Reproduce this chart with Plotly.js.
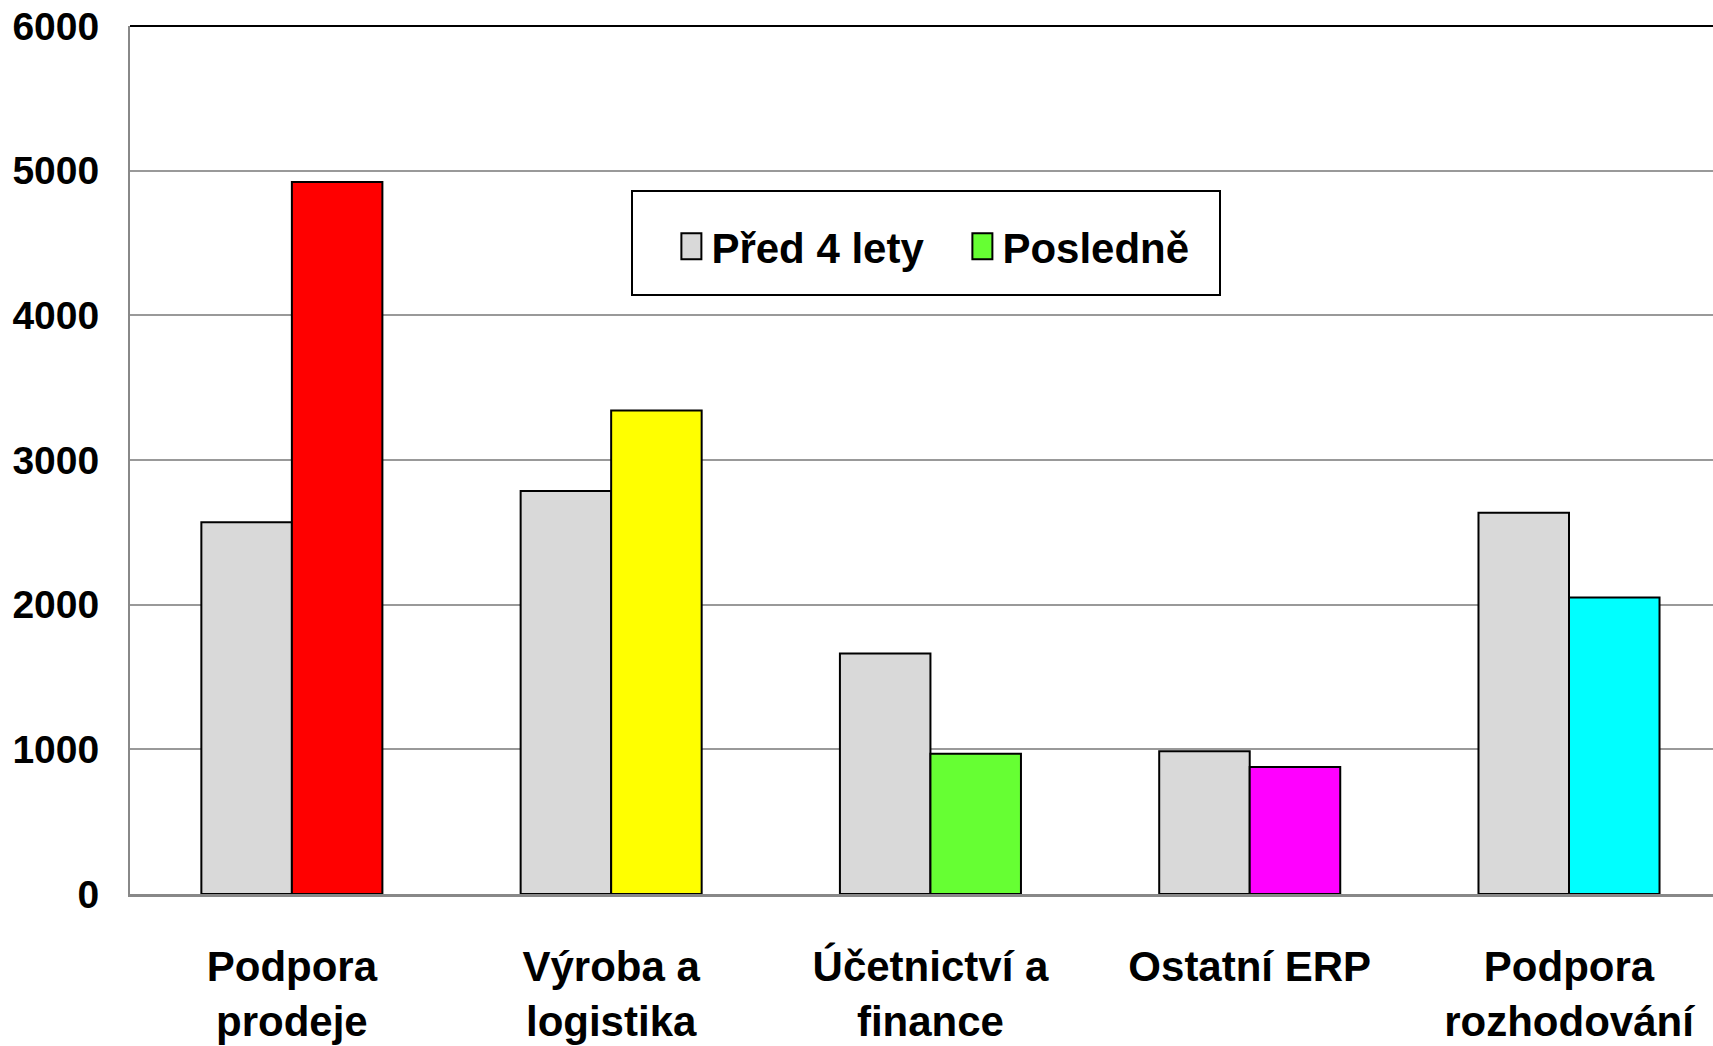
<!DOCTYPE html>
<html>
<head>
<meta charset="utf-8">
<script src="https://cdn.plot.ly/plotly-3.0.1.min.js"></script>
<style>
  html, body { margin: 0; padding: 0; background: #ffffff; overflow: hidden; }
  #chart { width: 1713px; height: 1046px; }
</style>
</head>
<body>
<div id="chart"></div>
<script>
// ---- data ----
const categories = ['Podpora<br>prodeje', 'Výroba a<br>logistika', 'Účetnictví a<br>finance', 'Ostatní ERP', 'Podpora<br>rozhodování'];
const seriesNames = ['Před 4 lety', 'Posledně'];
const before4Years = [2570, 2785, 1662, 986, 2636];
const lastTime = [4921, 3343, 970, 878, 2050];
const lastTimeColors = ['#ff0000', '#ffff00', '#66ff33', '#ff00ff', '#00ffff'];
const legendColorLast = '#66ff33';
const yTicks = [0, 1000, 2000, 3000, 4000, 5000, 6000];

const FONT = 'Liberation Sans, Arial, Helvetica, sans-serif';

const traces = [
  {
    type: 'bar', name: seriesNames[0], x: categories, y: before4Years,
    offsetgroup: 'a',
    marker: { color: '#d9d9d9', line: { color: '#000000', width: 2 } },
    hoverinfo: 'x+y+name'
  },
  {
    type: 'bar', name: seriesNames[1], x: categories, y: lastTime,
    offsetgroup: 'b', legendgroup: 'b', showlegend: false,
    marker: { color: lastTimeColors, line: { color: '#000000', width: 2 } },
    hoverinfo: 'x+y+name'
  },
  {
    // legend entry for the second series (Excel shows one swatch colour)
    type: 'bar', name: seriesNames[1], x: [categories[0]], y: [null],
    offsetgroup: 'b', legendgroup: 'b', showlegend: true,
    marker: { color: legendColorLast, line: { color: '#000000', width: 2 } },
    hoverinfo: 'skip'
  }
];

const layout = {
  width: 1713, height: 1046,
  margin: { l: 130, r: 0, t: 26, b: 152, pad: 0 },
  paper_bgcolor: '#ffffff', plot_bgcolor: '#ffffff',
  barmode: 'group', bargap: 0.433, bargroupgap: 0,
  font: { family: FONT, color: '#000000', weight: 'bold' },
  xaxis: {
    type: 'category', range: [-0.507, 4.451],
    showline: true, linecolor: '#888888', linewidth: 3,
    showgrid: false, zeroline: false, ticks: '',
    tickfont: { family: FONT, size: 42, color: '#000000', weight: 'bold' },
    ticklabelstandoff: 34,
    fixedrange: true
  },
  yaxis: {
    range: [0, 6000], tickvals: yTicks, ticktext: yTicks.map(String),
    showline: true, linecolor: '#888888', linewidth: 2,
    showgrid: true, gridcolor: '#999999', gridwidth: 2,
    zeroline: false, ticks: '',
    tickfont: { family: FONT, size: 39, color: '#000000', weight: 'bold' },
    ticklabelstandoff: 21,
    fixedrange: true
  },
  showlegend: true,
  legend: {
    orientation: 'h', x: 0.342, xanchor: 'left', y: 0.746, yanchor: 'middle',
    bgcolor: 'rgba(0,0,0,0)', borderwidth: 0,
    font: { family: FONT, size: 42, color: '#000000', weight: 'bold' },
    entrywidth: 246, entrywidthmode: 'pixels',
    traceorder: 'normal'
  },
  shapes: [
    { type: 'line', xref: 'paper', yref: 'paper', x0: 0, x1: 1, y0: 1, y1: 1,
      line: { color: '#000000', width: 2 } },
    { type: 'rect', xref: 'paper', yref: 'paper',
      x0: (632 - 130) / 1583, x1: (1220 - 130) / 1583,
      y0: (894 - 295) / 868, y1: (894 - 191) / 868,
      line: { color: '#000000', width: 2 }, fillcolor: 'rgba(255,255,255,0)', layer: 'above' }
  ],
  hovermode: false
};

function enlargeSwatches() {
  document.querySelectorAll('#chart .legend .legendpoints path').forEach(function (p) {
    p.setAttribute('d', 'M10,13H-10V-13H10Z');
  });
}

const gd = document.getElementById('chart');
Plotly.newPlot(gd, traces, layout, { displayModeBar: false, staticPlot: true }).then(function () {
  enlargeSwatches();
  gd.on && gd.on('plotly_afterplot', enlargeSwatches);
  setTimeout(enlargeSwatches, 50);
  setTimeout(enlargeSwatches, 300);
  setTimeout(enlargeSwatches, 1000);
});
</script>
</body>
</html>
